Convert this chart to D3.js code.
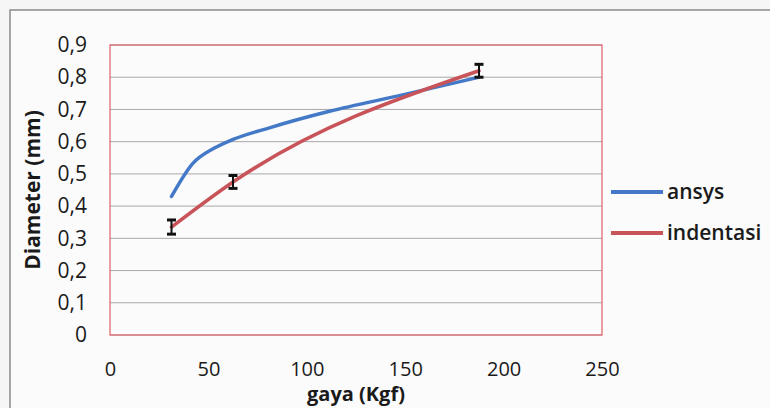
<!DOCTYPE html>
<html>
<head>
<meta charset="utf-8">
<script src="https://cdn.jsdelivr.net/npm/d3@7"></script>
<style>
  body { margin: 0; background: #f6f6f6; }
  svg { display: block; }
  text { font-family: "Open Sans", sans-serif; fill: #1a1a1a; }
</style>
</head>
<body>
<svg class="chart"></svg>
<script>
// Chart size
var width = 770;
var height = 408;

// Plot area inside the frame
var plot = { left: 110, top: 45, right: 602, bottom: 335 };

// Data
var ansysGaya = [31.25, 42, 53, 62.5, 81, 112, 147, 187.5];
var ansys = [0.43, 0.532, 0.58, 0.607, 0.643, 0.695, 0.743, 0.80];
var indentasiGaya = [31.25, 62.5, 187.5];
var indentasi = [0.335, 0.475, 0.82];
var indentasiError = [0.022, 0.02, 0.02];

var seriesNames = ["ansys", "indentasi"];
var seriesColors = ["#4479c8", "#c8545a"];

var xTicks = [0, 50, 100, 150, 200, 250];
var yTicks = [0, 0.1, 0.2, 0.3, 0.4, 0.5, 0.6, 0.7, 0.8, 0.9];

// Scales
var xScale = d3.scaleLinear().domain([0, 250]).range([plot.left, plot.right]);
var yScale = d3.scaleLinear().domain([0, 0.9]).range([plot.bottom, plot.top]);

var svg = d3.select(".chart")
    .attr("width", width)
    .attr("height", height);

// Outer frame of the chart (cut by the page edge)
svg.append("rect")
    .attr("x", 10).attr("y", 10)
    .attr("width", width).attr("height", height)
    .attr("fill", "#fbfbfb")
    .attr("stroke", "#8a8a8a")
    .attr("stroke-width", 1.5);

// Gridlines
svg.append("g")
    .selectAll("line")
    .data(yTicks)
    .enter().append("line")
    .attr("x1", plot.left).attr("x2", plot.right)
    .attr("y1", function(d) { return yScale(d); })
    .attr("y2", function(d) { return yScale(d); })
    .attr("stroke", "#a8a8a8")
    .attr("stroke-width", 1);

// Plot area border
svg.append("rect")
    .attr("x", plot.left).attr("y", plot.top)
    .attr("width", plot.right - plot.left)
    .attr("height", plot.bottom - plot.top)
    .attr("fill", "none")
    .attr("stroke", "#e0606a")
    .attr("stroke-width", 1.2);

// Y axis labels
var yAxis = d3.axisLeft(yScale)
    .tickValues(yTicks)
    .tickSize(0)
    .tickPadding(23)
    .tickFormat(function(d) { return d === 0 ? "0" : d3.format(".1f")(d).replace(".", ","); });

svg.append("g")
    .attr("transform", "translate(" + plot.left + ",0)")
    .call(yAxis)
    .call(function(g) { g.select(".domain").remove(); })
    .selectAll("text")
    .style("font-size", "21px")
    .style("fill", "#1a1a1a");

// X axis labels
var xAxis = d3.axisBottom(xScale)
    .tickValues(xTicks)
    .tickSize(0)
    .tickPadding(27)
    .tickFormat(d3.format("d"));

svg.append("g")
    .attr("transform", "translate(0," + plot.bottom + ")")
    .call(xAxis)
    .call(function(g) { g.select(".domain").remove(); })
    .selectAll("text")
    .style("font-size", "20px")
    .style("fill", "#1a1a1a");

// Axis titles
svg.append("text")
    .attr("x", (plot.left + plot.right) / 2)
    .attr("y", 401)
    .attr("text-anchor", "middle")
    .style("font-size", "20px")
    .style("font-weight", "bold")
    .text("gaya (Kgf)");

svg.append("text")
    .attr("transform", "translate(40," + ((plot.top + plot.bottom) / 2) + ") rotate(-90)")
    .attr("text-anchor", "middle")
    .style("font-size", "21px")
    .style("font-weight", "bold")
    .text("Diameter (mm)");

// Smoothed lines like the spreadsheet chart
var line = d3.line()
    .x(function(d) { return xScale(d[0]); })
    .y(function(d) { return yScale(d[1]); })
    .curve(d3.curveMonotoneX);

var seriesPoints = [d3.zip(ansysGaya, ansys), d3.zip(indentasiGaya, indentasi)];
seriesPoints.forEach(function(points, i) {
    svg.append("path")
        .datum(points)
        .attr("d", line)
        .attr("fill", "none")
        .attr("stroke", seriesColors[i])
        .attr("stroke-width", 3.5)
        .attr("stroke-linecap", "round");
});

// Error bars on indentasi
var errorBars = svg.append("g")
    .selectAll("g")
    .data(d3.zip(indentasiGaya, indentasi, indentasiError))
    .enter().append("g")
    .attr("stroke", "#111")
    .attr("stroke-width", 2);

errorBars.append("line")
    .attr("x1", function(d) { return xScale(d[0]); })
    .attr("x2", function(d) { return xScale(d[0]); })
    .attr("y1", function(d) { return yScale(d[1] - d[2]); })
    .attr("y2", function(d) { return yScale(d[1] + d[2]); });

[-1, 1].forEach(function(sign) {
    errorBars.append("line")
        .attr("x1", function(d) { return xScale(d[0]) - 4.5; })
        .attr("x2", function(d) { return xScale(d[0]) + 4.5; })
        .attr("y1", function(d) { return yScale(d[1] + sign * d[2]); })
        .attr("y2", function(d) { return yScale(d[1] + sign * d[2]); })
        .attr("stroke-width", 3);
});

// Legend
var legend = svg.append("g")
    .selectAll("g")
    .data(seriesNames)
    .enter().append("g")
    .attr("transform", function(d, i) { return "translate(611," + (192 + i * 41) + ")"; });

legend.append("line")
    .attr("x1", 0).attr("x2", 52)
    .attr("stroke", function(d, i) { return seriesColors[i]; })
    .attr("stroke-width", 4);

legend.append("text")
    .attr("x", 56)
    .attr("dy", "0.32em")
    .style("font-size", "21px")
    .style("font-weight", 600)
    .text(function(d) { return d; });
</script>
</body>
</html>
